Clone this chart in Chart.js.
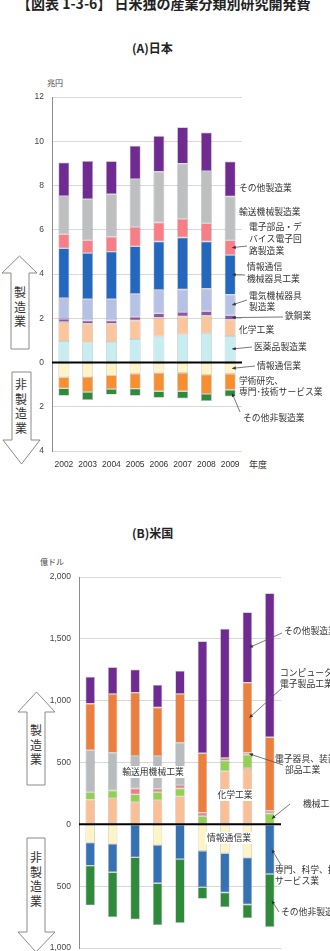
<!DOCTYPE html>
<html lang="ja">
<head>
<meta charset="utf-8">
<script src="https://cdn.jsdelivr.net/npm/chart.js@4.4.1/dist/chart.umd.min.js"></script>
<style>
  html, body { margin: 0; padding: 0; background: #fff; }
  body { width: 330px; height: 951px; overflow: hidden; position: relative; font-family: 'Noto Sans CJK JP', sans-serif; color: #222; }
  .t { position: absolute; white-space: nowrap; }
  canvas { position: absolute; left: 0; }
  .vt { position: absolute; width: 20px; text-align: center; font-size: 12px; line-height: 14.5px; color: #333; }
  svg { position: absolute; left: 0; top: 0; }
</style>
</head>
<body>
<div class="t" style="left:17px; top:-4px; font-size:14px; line-height:14px; font-weight:bold;">【図表 1-3-6】 日米独の産業分類別研究開発費</div>
<div class="t" style="left:132px; top:41px; font-size:12px; line-height:14px; font-weight:bold;">(A)日本</div>
<div class="t" style="left:47px; top:78px; font-size:8px; line-height:10px; color:#444;">兆円</div>
<div class="t" style="left:249px; top:460px; font-size:9px; line-height:10px; color:#333;">年度</div>
<div class="t" style="left:132px; top:526px; font-size:12px; line-height:14px; font-weight:bold;">(B)米国</div>
<div class="t" style="left:40px; top:557px; font-size:8px; line-height:10px; color:#444;">億ドル</div>

<svg width="330" height="951">
  <g fill="#fff" stroke="#8a8a8a" stroke-width="1">
    <polygon points="19.5,256 37,273 29,273 29,349 11,349 11,273 2,273"/>
    <polygon points="12,372 31,372 31,440 40,440 21.5,464 3,440 12,440"/>
    <polygon points="36.5,692 55,712 45,712 45,785 27,785 27,712 18,712"/>
    <polygon points="27,838 45,838 45,932 55,932 36,952 18,932 27,932"/>
  </g>
</svg>
<div class="vt" style="left:10px; top:285px;">製<br>造<br>業</div>
<div class="vt" style="left:11px; top:377px;">非<br>製<br>造<br>業</div>
<div class="vt" style="left:26px; top:723px;">製<br>造<br>業</div>
<div class="vt" style="left:26px; top:850px;">非<br>製<br>造<br>業</div>

<canvas id="jp" width="330" height="490" style="top:0"></canvas>
<canvas id="us" width="330" height="500" style="top:490px"></canvas>

<script>
// (A) Japan, trillion yen
const jpYears = ['2002', '2003', '2004', '2005', '2006', '2007', '2008', '2009'];
const jpPharma    = [0.97, 0.90, 0.93, 1.06, 1.18, 1.27, 1.32, 1.20];
const jpChemical  = [0.86, 0.85, 0.82, 0.84, 0.84, 0.81, 0.79, 0.73];
const jpSteel     = [0.15, 0.15, 0.15, 0.17, 0.20, 0.20, 0.21, 0.20];
const jpElectric  = [0.93, 0.96, 0.96, 1.03, 1.06, 1.02, 1.01, 0.94];
const jpInfoEquip = [2.25, 2.09, 2.15, 2.15, 2.19, 2.35, 2.14, 1.79];
const jpDevices   = [0.64, 0.57, 0.67, 0.87, 0.86, 0.85, 0.82, 0.66];
const jpTransport = [1.72, 1.86, 1.93, 2.17, 2.29, 2.49, 2.36, 1.98];
const jpOtherMfg  = [1.52, 1.73, 1.49, 1.51, 1.62, 1.64, 1.74, 1.58];
const jpInfoComm  = [-0.67, -0.66, -0.58, -0.51, -0.48, -0.46, -0.55, -0.51];
const jpScience   = [-0.50, -0.67, -0.62, -0.67, -0.82, -0.84, -0.87, -0.72];
const jpOtherNon  = [-0.33, -0.36, -0.25, -0.32, -0.29, -0.33, -0.32, -0.31];

// (B) USA, 100 million dollars
const usYears = ['2003', '2004', '2005', '2006', '2007', '2008', '2009', '2010', '2011'];
const usChemical  = [200, 210, 178, 195, 226, 0, 430, 455, 0];
const usMachinery = [60, 64, 64, 64, 64, 65, 85, 107, 88];
const usElecEquip = [0, 0, 48, 28, 28, 30, 22, 16, 22];
const usTransport = [340, 305, 262, 265, 342, 0, 0, 0, 0];
const usComputer  = [375, 475, 513, 393, 394, 480, 0, 568, 594];
const usOtherMfg  = [218, 217, 187, 183, 187, 905, 1045, 568, 1165];
const usInfoComm  = [-147, -158, 0, -168, 0, -214, -233, -268, 0];
const usProfSci   = [-187, -230, -267, -308, -281, -294, -318, -380, -402];
const usOtherNon  = [-321, -363, -503, -339, -516, -94, -120, -112, -428];

Chart.defaults.font.family = "'Liberation Sans', 'Noto Sans CJK JP', sans-serif";
Chart.defaults.animation = false;

function ds(label, data, color) {
  return {
    label: label, data: data, backgroundColor: color,
    borderColor: 'rgba(0,0,0,0.28)', borderWidth: 0.7, borderSkipped: false
  };
}

// zero line on top of the bars, then the callout labels
function notesPlugin(notes) {
  return {
    id: 'notes',
    afterDatasetsDraw(chart) {
      const ctx = chart.ctx;
      const area = chart.chartArea;
      const y0 = chart.scales.y.getPixelForValue(0);
      ctx.save();
      ctx.strokeStyle = '#000';
      ctx.lineWidth = 2;
      ctx.beginPath();
      ctx.moveTo(area.left, y0);
      ctx.lineTo(area.right, y0);
      ctx.stroke();

      ctx.font = "8.8px 'Noto Sans CJK JP'";
      ctx.textBaseline = 'middle';
      notes.forEach(n => {
        if (n.ds !== undefined) {
          const bar = chart.getDatasetMeta(n.ds).data[n.idx];
          const tx = bar.x + 2;
          const ty = (bar.y + bar.base) / 2;
          ctx.strokeStyle = '#555';
          ctx.fillStyle = '#333';
          ctx.lineWidth = 0.8;
          ctx.beginPath();
          ctx.moveTo(n.from[0], n.from[1]);
          ctx.lineTo(tx, ty);
          ctx.stroke();
          const a = Math.atan2(ty - n.from[1], tx - n.from[0]);
          ctx.beginPath();
          ctx.moveTo(tx, ty);
          ctx.lineTo(tx - 4 * Math.cos(a - 0.45), ty - 4 * Math.sin(a - 0.45));
          ctx.lineTo(tx - 4 * Math.cos(a + 0.45), ty - 4 * Math.sin(a + 0.45));
          ctx.closePath();
          ctx.fill();
        }
        n.lines.forEach(l => {
          if (n.box) {
            const w = ctx.measureText(l.t).width;
            ctx.fillStyle = '#fff';
            ctx.fillRect(l.x - w / 2 - 2, l.y - 6, w + 4, 12);
            ctx.textAlign = 'center';
          } else {
            ctx.textAlign = 'left';
          }
          ctx.fillStyle = '#333';
          ctx.fillText(l.t, l.x, l.y);
        });
      });
      ctx.restore();
    }
  };
}

function yAxis(min, max, step, fmt, width) {
  return {
    stacked: true, min: min, max: max,
    ticks: { stepSize: step, padding: 8, color: '#444', font: { size: 8.5 }, callback: fmt },
    grid: { color: '#d9d9d9', drawTicks: false },
    border: { color: '#8c8c8c', width: 1 },
    afterFit(s) { s.width = width; }
  };
}

function xAxis() {
  return {
    stacked: true,
    grid: { display: false, drawTicks: false },
    border: { display: false },
    ticks: { padding: 9, color: '#333', font: { size: 8.5 }, maxRotation: 0, autoSkip: false },
    afterFit(s) { s.height = 30; }
  };
}

const jpNotes = [
  { lines: [{ t: 'その他製造業', x: 239, y: 188 }] },
  { lines: [{ t: '輸送機械製造業', x: 239, y: 212 }] },
  { lines: [{ t: '電子部品・デ', x: 249, y: 227 }, { t: 'バイス電子回', x: 249, y: 239 }, { t: '路製造業', x: 249, y: 251 }], from: [247, 246], ds: 5, idx: 7 },
  { lines: [{ t: '情報通信', x: 247, y: 267 }, { t: '機械器具工業', x: 247, y: 279 }], from: [245, 275], ds: 4, idx: 7 },
  { lines: [{ t: '電気機械器具', x: 249, y: 296 }, { t: '製造業', x: 249, y: 307 }], from: [247, 300], ds: 3, idx: 7 },
  { lines: [{ t: '鉄鋼業', x: 285, y: 316 }], from: [283, 317], ds: 2, idx: 7 },
  { lines: [{ t: '化学工業', x: 239, y: 330 }] },
  { lines: [{ t: '医薬品製造業', x: 254, y: 347 }], from: [252, 347], ds: 0, idx: 7 },
  { lines: [{ t: '情報通信業', x: 257, y: 366 }], from: [255, 366], ds: 8, idx: 7 },
  { lines: [{ t: '学術研究、', x: 239, y: 381 }, { t: '専門･技術サービス業', x: 239, y: 392 }] },
  { lines: [{ t: 'その他非製造業', x: 243, y: 418 }], from: [240, 412], ds: 10, idx: 7 }
];

new Chart(document.getElementById('jp'), {
  type: 'bar',
  data: {
    labels: jpYears,
    datasets: [
      ds('医薬品製造業', jpPharma, '#c6eef0'),
      ds('化学工業', jpChemical, '#fcc69c'),
      ds('鉄鋼業', jpSteel, '#8d56a6'),
      ds('電気機械器具製造業', jpElectric, '#b6c1e6'),
      ds('情報通信機械器具工業', jpInfoEquip, '#2367bf'),
      ds('電子部品・デバイス電子回路製造業', jpDevices, '#f77d87'),
      ds('輸送機械製造業', jpTransport, '#bdbfc1'),
      ds('その他製造業', jpOtherMfg, '#6f2b92'),
      ds('情報通信業', jpInfoComm, '#fff4c6'),
      ds('学術研究、専門・技術サービス業', jpScience, '#f78f30'),
      ds('その他非製造業', jpOtherNon, '#2f8a3c')
    ]
  },
  options: {
    responsive: false,
    barPercentage: 0.46,
    categoryPercentage: 1,
    layout: { padding: { top: 97, right: 88, bottom: 9, left: 0 } },
    plugins: { legend: { display: false }, tooltip: { enabled: false } },
    scales: {
      x: xAxis(),
      y: yAxis(-4, 12, 2, v => Math.abs(v), 52)
    }
  },
  plugins: [notesPlugin(jpNotes)]
});

const usNotes = [
  { lines: [{ t: 'その他製造業', x: 284, y: 141 }], from: [282, 143], ds: 5, idx: 7 },
  { lines: [{ t: 'コンピューター・', x: 280, y: 183 }, { t: '電子製品工業', x: 280, y: 194 }], from: [282, 198], ds: 4, idx: 7 },
  { lines: [{ t: '電子器具、装置・', x: 275, y: 269 }, { t: '部品工業', x: 285, y: 280 }], from: [283, 275], ds: 2, idx: 7 },
  { lines: [{ t: '機械工業', x: 303, y: 314 }], from: [290, 314], ds: 1, idx: 8 },
  { lines: [{ t: '専門、科学、技術', x: 275, y: 380 }, { t: 'サービス業', x: 275, y: 391 }], from: [281, 375], ds: 7, idx: 8 },
  { lines: [{ t: 'その他非製造業', x: 281, y: 422 }], from: [279, 422], ds: 8, idx: 8 },
  { lines: [{ t: '輸送用機械工業', x: 153, y: 282 }], box: true },
  { lines: [{ t: '化学工業', x: 235, y: 305 }], box: true },
  { lines: [{ t: '情報通信業', x: 229, y: 348 }], box: true }
];

new Chart(document.getElementById('us'), {
  type: 'bar',
  data: {
    labels: usYears,
    datasets: [
      ds('化学工業', usChemical, '#fbbf95'),
      ds('機械工業', usMachinery, '#92d050'),
      ds('電子器具、装置・部品工業', usElecEquip, '#f47a85'),
      ds('輸送用機械工業', usTransport, '#b9bcbf'),
      ds('コンピューター・電子製品工業', usComputer, '#ec7f3d'),
      ds('その他製造業', usOtherMfg, '#6f2b92'),
      ds('情報通信業', usInfoComm, '#fff4c6'),
      ds('専門、科学、技術サービス業', usProfSci, '#3572b4'),
      ds('その他非製造業', usOtherNon, '#2f8a3c')
    ]
  },
  options: {
    responsive: false,
    barPercentage: 0.42,
    categoryPercentage: 1,
    layout: { padding: { top: 87, right: 49, bottom: 12, left: 0 } },
    plugins: { legend: { display: false }, tooltip: { enabled: false } },
    scales: {
      x: xAxis(),
      y: yAxis(-1000, 2000, 500, v => Math.abs(v).toLocaleString('en-US'), 79)
    }
  },
  plugins: [notesPlugin(usNotes)]
});
</script>
</body>
</html>
